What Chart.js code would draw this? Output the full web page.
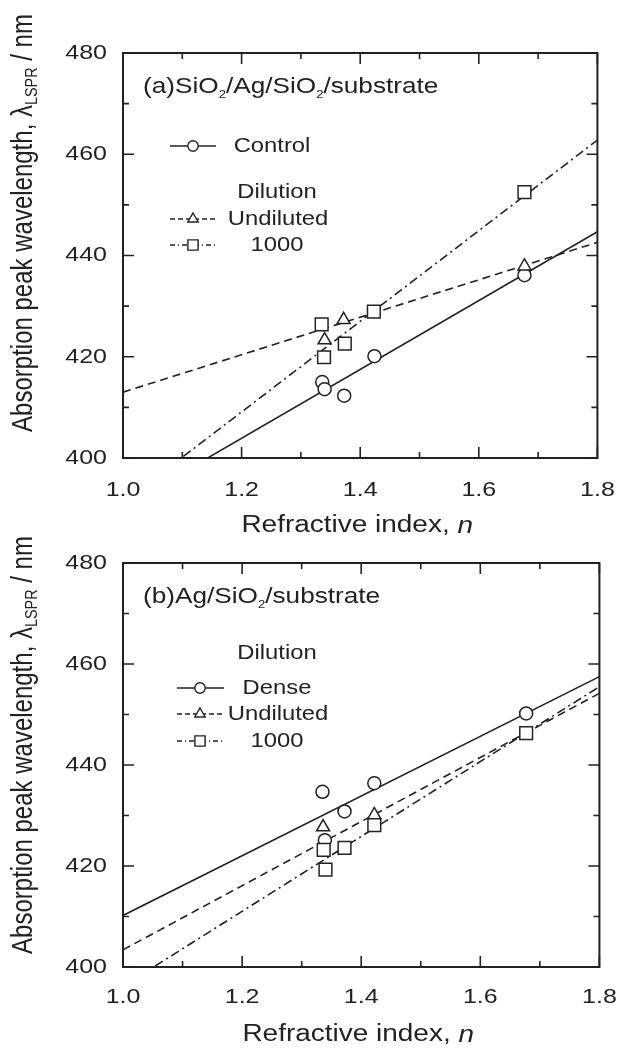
<!DOCTYPE html>
<html>
<head>
<meta charset="utf-8">
<script src="https://cdn.jsdelivr.net/npm/chart.js@4.4.0/dist/chart.umd.min.js"></script>
<style>
  html, body { margin: 0; padding: 0; background: #fff; }
  body { width: 632px; height: 1048px; position: relative; overflow: hidden; }
  .panel { position: absolute; left: 0; width: 632px; }
  #pa { top: 0; height: 560px; }
  #pb { top: 490px; height: 558px; }
</style>
</head>
<body>
<div class="panel" id="pa"><canvas id="chart-a" width="632" height="560"></canvas></div>
<div class="panel" id="pb"><canvas id="chart-b" width="632" height="558"></canvas></div>
<script>
// (a) SiO2/Ag/SiO2/substrate : refractive index n -> peak wavelength (nm)
const nControlA = [1.336, 1.340, 1.373, 1.424, 1.677];
const peakControlA = [415.0, 413.6, 412.3, 420.1, 436.1];
const nUndilutedA = [1.340, 1.372, 1.677];
const peakUndilutedA = [423.3, 427.3, 437.9];
const n1000A = [1.335, 1.339, 1.374, 1.423, 1.677];
const peak1000A = [426.4, 419.9, 422.6, 428.9, 452.5];

// (b) Ag/SiO2/substrate
const nDenseB = [1.335, 1.339, 1.372, 1.422, 1.677];
const peakDenseB = [434.7, 425.1, 430.8, 436.4, 450.2];
const nUndilutedB = [1.336, 1.422];
const peakUndilutedB = [427.7, 430.1];
const n1000B = [1.337, 1.340, 1.372, 1.422, 1.677];
const peak1000B = [423.2, 419.3, 423.6, 428.1, 446.3];

// linear fits: wavelength at n = 1.0 and n = 1.8
const fitN = [1.0, 1.8];
const fitControlA = [390.3, 444.7];
const fitUndilutedA = [413.0, 442.6];
const fit1000A = [391.2, 462.8];
const fitDenseB = [410.2, 457.5];
const fitUndilutedB = [403.4, 454.2];
const fit1000B = [396.2, 455.5];

const xTicks = [1.0, 1.2, 1.4, 1.6, 1.8];
const yTicks = [400, 420, 440, 460, 480];

const SX = 1.19;   // the original figure is stretched sideways
const FONT = '"Liberation Sans", Arial, Helvetica, sans-serif';
const INK = '#222';
const DASH = [8, 5];
const DASHDOT = [9, 4, 2, 4];

const pts = (xs, ys) => xs.map((x, i) => ({ x, y: ys[i] }));
const mids = arr => arr.slice(1).map((v, i) => (v + arr[i]) / 2);

function stretchText(ctx) {
  const raw = ctx.fillText.bind(ctx);
  ctx.__rawFill = raw;
  ctx.fillText = function (t, x, y) {
    this.save();
    this.translate(x, y);
    this.scale(SX, 1);
    raw(t, 0, 0);
    this.restore();
  };
}

function partFont(p, size) {
  const s = p.sub ? size * (p.k || 0.55) : size;
  return (p.it ? 'italic ' : '') + s + 'px ' + FONT;
}

function drawRich(ctx, parts, size, align, x, y, rot, sx, sy) {
  ctx.save();
  ctx.translate(x, y);
  if (rot) ctx.rotate(rot);
  ctx.scale(sx, sy);
  ctx.textBaseline = 'middle';
  ctx.textAlign = 'left';
  ctx.fillStyle = INK;
  let w = 0;
  parts.forEach(p => { ctx.font = partFont(p, size); w += ctx.measureText(p.t).width; });
  let cx = align === 'center' ? -w / 2 : align === 'right' ? -w : 0;
  parts.forEach(p => {
    ctx.font = partFont(p, size);
    ctx.__rawFill(p.t, cx, p.sub ? size * (p.dy || 0.3) : 0);
    cx += ctx.measureText(p.t).width;
  });
  ctx.restore();
}

const yTitleParts = [
  { t: 'Absorption peak wavelength, \u03bb' },
  { t: 'LSPR', sub: true, k: 0.6, dy: 0.3 },
  { t: ' / nm' }
];
const xTitleParts = [{ t: 'Refractive index, ' }, { t: 'n', it: true }];

const markStyle = {
  circle: { pointStyle: 'circle', radius: 6.5 },
  triangle: { pointStyle: 'triangle', radius: 7.5 },
  rect: { pointStyle: 'rect', radius: 9 }
};

const panels = [
  {
    id: 'chart-a', h: 560, top: 53, bottom: 458, tickPad: 20,
    title: [{ t: '(a)SiO' }, { t: '2', sub: true, k: 0.5, dy: 0.35 }, { t: '/Ag/SiO' },
            { t: '2', sub: true, k: 0.5, dy: 0.35 }, { t: '/substrate' }],
    titleY: 87, xTitleY: 526, yTitleY: 223,
    heading: { text: 'Dilution', x: 277, y: 192 },
    legend: [
      { label: 'Control', mark: 'circle', dash: [], x0: 170, x1: 216, mx: 193, lx: 272, y: 146 },
      { label: 'Undiluted', mark: 'triangle', dash: [5, 3], x0: 170, x1: 218, mx: 193, lx: 278, y: 219 },
      { label: '1000', mark: 'rect', dash: [5, 3, 1, 3], x0: 170, x1: 218, mx: 193, lx: 277, y: 245 }
    ],
    sets: [
      { data: pts(n1000A, peak1000A), mark: 'rect' },
      { data: pts(nUndilutedA, peakUndilutedA), mark: 'triangle' },
      { data: pts(nControlA, peakControlA), mark: 'circle' },
      { data: pts(fitN, fitControlA), dash: [] },
      { data: pts(fitN, fitUndilutedA), dash: DASH },
      { data: pts(fitN, fit1000A), dash: DASHDOT }
    ]
  },
  {
    id: 'chart-b', h: 558, top: 73, bottom: 477, tickPad: 18,
    title: [{ t: '(b)Ag/SiO' }, { t: '2', sub: true, k: 0.5, dy: 0.35 }, { t: '/substrate' }],
    titleY: 107, xTitleY: 545, yTitleY: 255,
    heading: { text: 'Dilution', x: 277, y: 163 },
    legend: [
      { label: 'Dense', mark: 'circle', dash: [], x0: 177, x1: 224, mx: 200, lx: 277, y: 198 },
      { label: 'Undiluted', mark: 'triangle', dash: [5, 3], x0: 177, x1: 225, mx: 200, lx: 278, y: 224 },
      { label: '1000', mark: 'rect', dash: [5, 3, 1, 3], x0: 177, x1: 225, mx: 200, lx: 277, y: 251 }
    ],
    sets: [
      { data: pts(n1000B, peak1000B), mark: 'rect' },
      { data: pts(nUndilutedB, peakUndilutedB), mark: 'triangle' },
      { data: pts(nDenseB, peakDenseB), mark: 'circle' },
      { data: pts(fitN, fitDenseB), dash: [] },
      { data: pts(fitN, fitUndilutedB), dash: DASH },
      { data: pts(fitN, fit1000B), dash: DASHDOT }
    ]
  }
];

// frame, inward ticks, titles and legend
const decor = {
  id: 'decor',
  afterDraw(chart, args, opts) {
    const p = opts.panel;
    const ctx = chart.ctx;
    const { left, right, top, bottom } = chart.chartArea;
    const xs = chart.scales.x, ys = chart.scales.y;
    ctx.save();
    ctx.strokeStyle = INK;
    ctx.lineWidth = 2;
    ctx.setLineDash([]);
    ctx.strokeRect(left, top, right - left, bottom - top);
    ctx.lineWidth = 1.6;
    const tick = (vals, len) => {
      ctx.beginPath();
      vals.forEach(v => {
        const px = xs.getPixelForValue(v);
        ctx.moveTo(px, bottom); ctx.lineTo(px, bottom - len);
        ctx.moveTo(px, top); ctx.lineTo(px, top + len);
      });
      ctx.stroke();
    };
    const ytick = (vals, len) => {
      ctx.beginPath();
      vals.forEach(v => {
        const py = ys.getPixelForValue(v);
        ctx.moveTo(left, py); ctx.lineTo(left + len, py);
        ctx.moveTo(right, py); ctx.lineTo(right - len, py);
      });
      ctx.stroke();
    };
    tick(xTicks, 11); tick(mids(xTicks), 6);
    ytick(yTicks, 11); ytick(mids(yTicks), 6);

    drawRich(ctx, p.title, 22, 'left', left + 20, p.titleY, 0, SX, 1);
    drawRich(ctx, xTitleParts, 23.5, 'center', (left + right) / 2 - 3, p.xTitleY, 0, SX, 1);
    drawRich(ctx, yTitleParts, 24, 'center', 24, p.yTitleY, -Math.PI / 2, 1, SX);

    drawRich(ctx, [{ t: p.heading.text }], 20, 'center', p.heading.x, p.heading.y, 0, SX, 1);
    p.legend.forEach(it => {
      ctx.strokeStyle = INK;
      ctx.lineWidth = 1.4;
      ctx.setLineDash(it.dash);
      ctx.beginPath();
      ctx.moveTo(it.x0, it.y); ctx.lineTo(it.x1, it.y);
      ctx.stroke();
      ctx.setLineDash([]);
      ctx.fillStyle = '#fff';
      const m = markStyle[it.mark];
      Chart.helpers.drawPoint(ctx, { pointStyle: m.pointStyle, radius: m.radius * 0.8, borderWidth: 1.4, rotation: 0 }, it.mx, it.y);
      drawRich(ctx, [{ t: it.label }], 20, 'center', it.lx, it.y, 0, SX, 1);
    });
    ctx.restore();
  }
};

panels.forEach(p => {
  const canvas = document.getElementById(p.id);
  stretchText(canvas.getContext('2d'));
  const datasets = p.sets.map(s => s.mark ? {
    data: s.data,
    showLine: false,
    pointStyle: markStyle[s.mark].pointStyle,
    pointRadius: markStyle[s.mark].radius,
    pointBackgroundColor: '#fff',
    pointBorderColor: INK,
    pointBorderWidth: 1.5
  } : {
    data: s.data,
    showLine: true,
    borderColor: INK,
    borderWidth: 1.6,
    borderDash: s.dash,
    pointRadius: 0,
    fill: false
  });
  new Chart(canvas, {
    type: 'scatter',
    data: { datasets },
    options: {
      responsive: false,
      animation: false,
      events: [],
      layout: { padding: { top: p.top, right: 22, left: 0, bottom: 0 } },
      plugins: { legend: { display: false }, tooltip: { enabled: false }, decor: { panel: p } },
      scales: {
        x: {
          type: 'linear', min: 1.0, max: 1.8,
          afterBuildTicks: s => { s.ticks = xTicks.map(v => ({ value: v })); },
          afterFit: s => { s.height = p.h - p.bottom; },
          grid: { display: false, drawTicks: false },
          border: { display: false },
          ticks: { callback: v => v.toFixed(1), color: INK, font: { family: FONT, size: 21 }, padding: p.tickPad, maxRotation: 0, autoSkip: false }
        },
        y: {
          type: 'linear', min: 400, max: 480,
          afterBuildTicks: s => { s.ticks = yTicks.map(v => ({ value: v })); },
          afterFit: s => { s.width = 123; },
          grid: { display: false, drawTicks: false },
          border: { display: false },
          ticks: { color: INK, font: { family: FONT, size: 21 }, padding: 16 }
        }
      }
    },
    plugins: [decor]
  });
});
</script>
</body>
</html>
